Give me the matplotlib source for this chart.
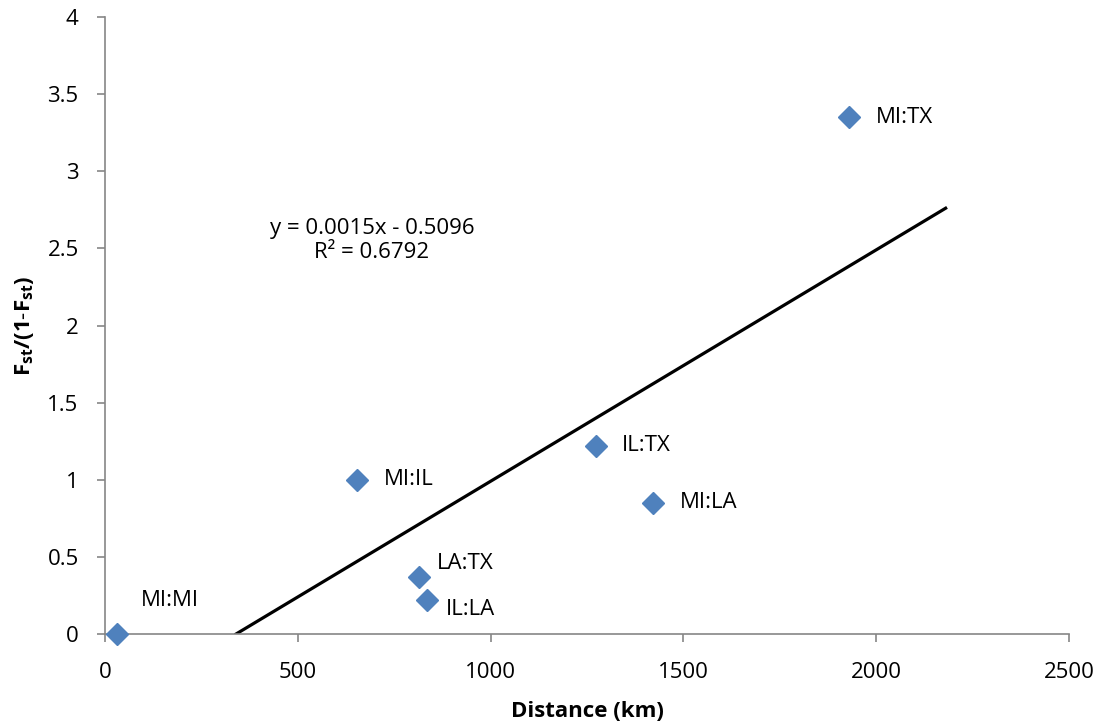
import numpy as np
import matplotlib.pyplot as plt

plt.rcParams['font.family'] = ['Open Sans', 'DejaVu Sans']
plt.rcParams['mathtext.fontset'] = 'custom'
plt.rcParams['mathtext.rm'] = 'Open Sans'
plt.rcParams['mathtext.bf'] = 'Open Sans:bold'

# pairwise distance vs. linearised Fst
pairs = ['MI:MI', 'MI:IL', 'LA:TX', 'IL:LA', 'IL:TX', 'MI:LA', 'MI:TX']
distance = [31, 654, 814, 834, 1272, 1422, 1930]
fst_ratio = [0.0, 1.0, 0.37, 0.22, 1.22, 0.85, 3.35]

slope = 0.0015
intercept = -0.5096
r2 = 0.6792
x_end = 2180

FS = 16

# label offsets in points (dx, dy)
offsets = {
    'MI:MI': (17, 24),
    'LA:TX': (13, 10),
    'IL:LA': (14, -7),
}

fig = plt.figure(figsize=(11.07, 7.26), dpi=100)
ax = fig.add_axes([0.0949, 0.1267, 0.8708, 0.8499])

ax.plot(distance, fst_ratio, linestyle='none', marker='D', markersize=11,
        color='#4F81BD', zorder=3, clip_on=False)

x0 = -intercept / slope
xs = np.array([x0, x_end])
ax.plot(xs, slope * xs + intercept, color='black', linewidth=2.3, zorder=2)

for name, x, y in zip(pairs, distance, fst_ratio):
    dx, dy = offsets.get(name, (19, 0))
    ax.annotate(name, (x, y), xytext=(dx, dy), textcoords='offset points',
                ha='left', va='center', fontsize=FS)

ax.text(692, 2.55, 'y = %.4fx - %.4f\nR² = %.4f' % (slope, -intercept, r2),
        ha='center', va='center', fontsize=FS, linespacing=1.2)

ax.set_xlim(0, 2500)
ax.set_ylim(0, 4)
ax.set_xticks(np.arange(0, 2501, 500))
ax.set_yticks(np.arange(0, 4.01, 0.5))
ax.set_yticklabels(['0', '0.5', '1', '1.5', '2', '2.5', '3', '3.5', '4'])

for s in ['top', 'right']:
    ax.spines[s].set_visible(False)
for s in ['left', 'bottom']:
    ax.spines[s].set_color('#868686')
    ax.spines[s].set_linewidth(1.2)
ax.tick_params(direction='out', length=6, width=1.2, color='#868686',
               labelsize=FS)
ax.tick_params(axis='x', pad=14)
ax.tick_params(axis='y', pad=13)

ax.set_xlabel('Distance (km)', fontsize=FS, fontweight='bold', labelpad=13)
ax.set_ylabel(r'$\mathbf{F_{st}/(1\text{-}F_{st})}$', fontsize=FS, labelpad=8)

fig.savefig('out.png', dpi=100)
